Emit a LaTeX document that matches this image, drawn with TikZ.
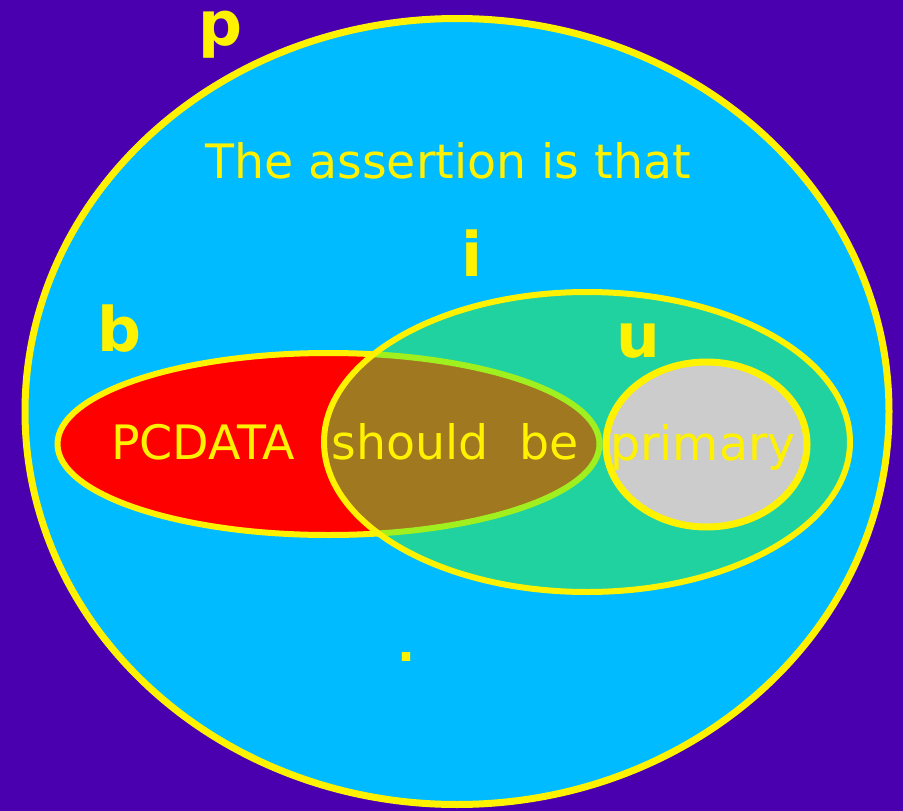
\documentclass[tikz,border=0pt]{standalone}
\usepackage{fontspec}
\setmainfont{DejaVu Sans}
\definecolor{bgpurple}{RGB}{74,0,175}
\definecolor{skyfill}{RGB}{0,187,255}
\definecolor{redfill}{RGB}{255,0,0}
\definecolor{greenfill}{RGB}{32,210,160}
\definecolor{brownfill}{RGB}{160,120,32}
\definecolor{limeline}{RGB}{160,240,32}
\definecolor{greyfill}{RGB}{204,204,204}
\tikzset{
  rim/.style={draw=yellow,line width=0.12cm},
  setname/.style={text=yellow,font=\bfseries\fontsize{35}{40}\selectfont,anchor=base,inner sep=0pt},
  word/.style={text=yellow,font=\fontsize{27}{32}\selectfont,anchor=base,inner sep=0pt}
}
\begin{document}
\begin{tikzpicture}[x=0.02cm,y=-0.02cm]
\fill[bgpurple] (0,0) rectangle (903,811);

\path[rim,fill=skyfill,line width=0.14cm] (457,411.5) ellipse [x radius=432, y radius=393];
\path[rim,fill=redfill] (328.5,444) ellipse [x radius=271, y radius=91];
\path[fill=greenfill] (587,442) ellipse [x radius=263, y radius=150];
\begin{scope}
\clip (587,442) ellipse [x radius=263, y radius=150];
\path[fill=brownfill,draw=limeline,line width=0.12cm] (328.5,444) ellipse [x radius=271, y radius=91];
\end{scope}
\path[rim] (587,442) ellipse [x radius=263, y radius=150];
\path[rim,fill=greyfill,line width=0.14cm] (706.5,444.5) ellipse [x radius=100.5, y radius=82.5];

\node[setname,text height=0.6cm] (plabel) at (221,46) {p};
\node[setname] (ilabel) at (472,276) {i};
\node[setname] (blabel) at (119.5,351) {b};
\node[setname] (ulabel) at (638,357) {u};

\node[word] (assertion) at (448,178) {The assertion is that};
\node[word] (pcdata) at (203,459) {PCDATA};
\node[word] (shouldbe) at (455,459) {should\ \ be};
\node[word] (primary) at (703,460) {primary};
\node[word,font=\bfseries\fontsize{27}{32}\selectfont] (dot) at (406.5,661) {.};
\end{tikzpicture}
\end{document}
